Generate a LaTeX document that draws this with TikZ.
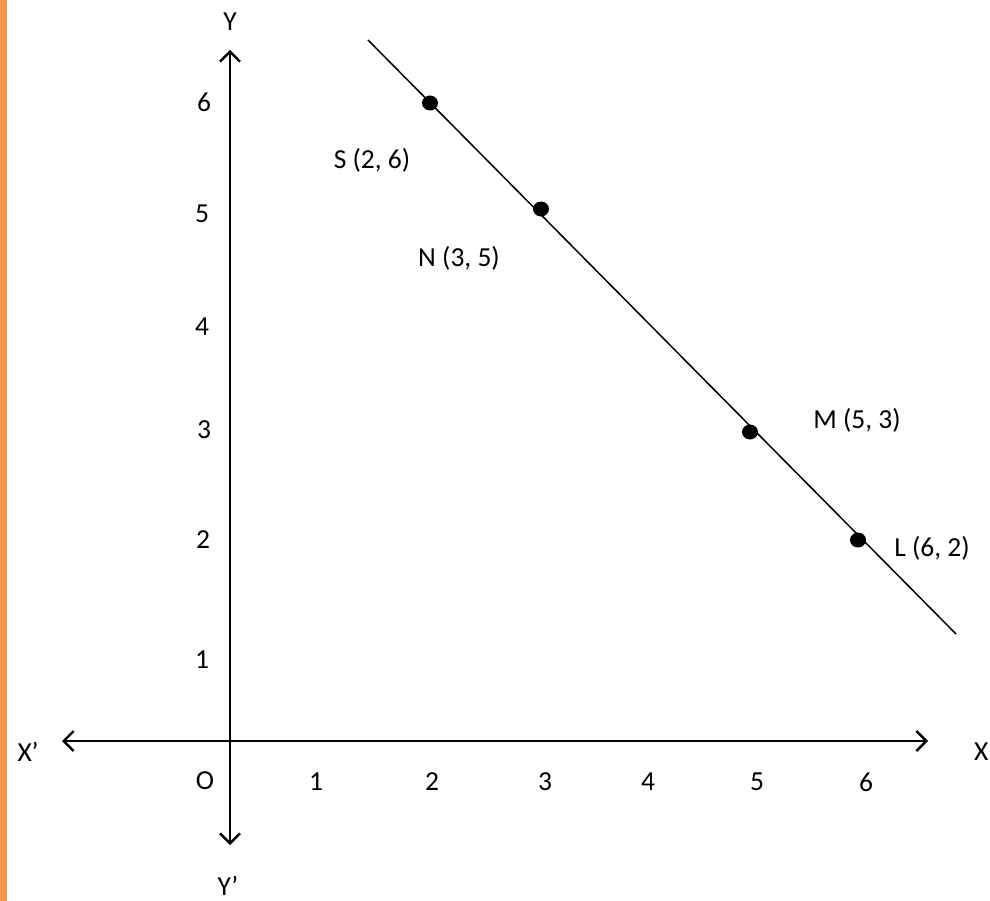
\documentclass[tikz,border=0pt]{standalone}
\usepackage{fontspec}
\setmainfont{Carlito}
\usetikzlibrary{arrows.meta,shapes.geometric}
\definecolor{barorange}{HTML}{F79646}
\begin{document}
\begin{tikzpicture}[x=1pt,y=-1pt,
  axis/.style={line width=2.4pt,{Straight Barb[length=10pt,width=20pt,line width=2.4pt]}-{Straight Barb[length=10pt,width=20pt,line width=2.4pt]}},
  lbl/.style={inner sep=0pt,font=\fontsize{27.5}{32}\selectfont},
  dot/.style={ellipse,fill=black,inner sep=0pt,minimum width=16pt,minimum height=15pt},
  diag/.style={line width=1.5pt}]
\useasboundingbox (0,0) rectangle (990,901);
\fill[barorange] (0,0) rectangle (6.5,901);
% axes
\coordinate (xl) at (62,741);
\coordinate (xr) at (928,741);
\coordinate (yt) at (230,50);
\coordinate (yb) at (230,845);
\draw[axis] (xl) -- (xr);
\draw[axis] (yb) -- (yt);
% axis names
\node[lbl] (Xp) at (28,752) {X’};
\node[lbl,anchor=west] (X) at (974,752) {X};
\node[lbl] (Y) at (230,22) {Y};
\node[lbl,anchor=south] (Yp) at (228,896) {Y’};
\node[lbl] (O) at (205,781) {O};
% x ticks
\node[lbl] (x1) at (316,782) {1};
\node[lbl] (x2) at (432,782) {2};
\node[lbl] (x3) at (545,782) {3};
\node[lbl] (x4) at (648,782) {4};
\node[lbl] (x5) at (757,782) {5};
\node[lbl] (x6) at (866,782) {6};
% y ticks
\node[lbl] (y6) at (204,102) {6};
\node[lbl] (y5) at (202,214) {5};
\node[lbl] (y4) at (202,327) {4};
\node[lbl] (y3) at (204,430) {3};
\node[lbl] (y2) at (203,540) {2};
\node[lbl] (y1) at (202,660) {1};
% line and points
\coordinate (ls) at (368,40);
\coordinate (le) at (956,634);
\draw[diag] (ls) -- (le);
\node[dot] (S) at (430,103) {};
\node[dot] (N) at (541,209) {};
\node[dot] (M) at (750,432) {};
\node[dot] (L) at (858,540) {};
\node[lbl] (Sl) at (372,160) {S (2, 6)};
\node[lbl] (Nl) at (459,258) {N (3, 5)};
\node[lbl] (Ml) at (857,420) {M (5, 3)};
\node[lbl] (Ll) at (932,548) {L (6, 2)};
\end{tikzpicture}
\end{document}
